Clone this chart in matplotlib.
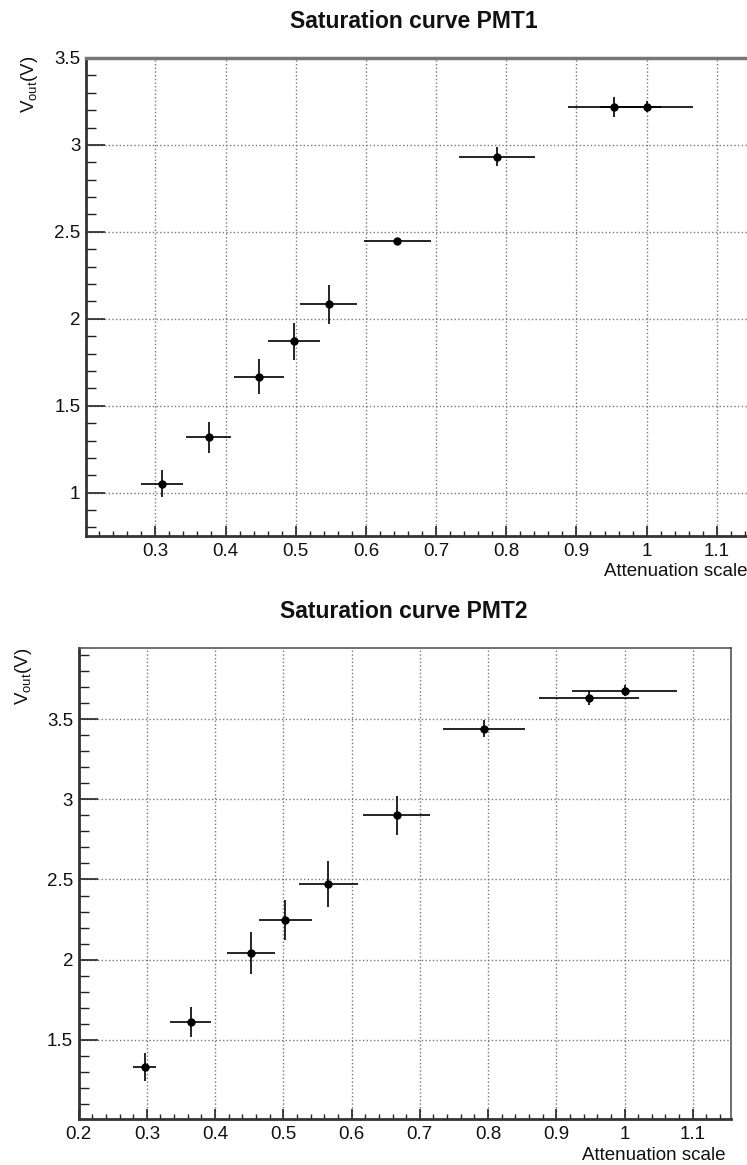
import numpy as np
import matplotlib
matplotlib.use("Agg")
import matplotlib.pyplot as plt
from matplotlib.ticker import MultipleLocator, FormatStrFormatter

plt.rcParams['font.family'] = ['Liberation Sans', 'DejaVu Sans']
plt.rcParams['mathtext.default'] = 'regular'

# PMT1 data
pmt1_x = [0.310, 0.376, 0.448, 0.498, 0.547, 0.645, 0.787, 0.954, 1.000]
pmt1_y = [1.052, 1.318, 1.667, 1.870, 2.084, 2.446, 2.933, 3.220, 3.220]
pmt1_xerr = [0.030, 0.032, 0.036, 0.037, 0.041, 0.048, 0.054, 0.066, 0.066]
pmt1_yerr = [0.078, 0.087, 0.100, 0.107, 0.113, 0.008, 0.054, 0.057, 0.033]

# PMT2 data
pmt2_x = [0.297, 0.364, 0.453, 0.503, 0.566, 0.666, 0.794, 0.948, 1.000]
pmt2_y = [1.329, 1.608, 2.038, 2.248, 2.471, 2.900, 3.442, 3.633, 3.679]
pmt2_xerr = [0.017, 0.030, 0.035, 0.039, 0.043, 0.049, 0.060, 0.073, 0.077]
pmt2_yerr = [0.085, 0.093, 0.131, 0.124, 0.142, 0.122, 0.053, 0.046, 0.035]

W, H = 747, 1165
fig = plt.figure(figsize=(W / 100, H / 100), dpi=100)


def px_axes(l, t, r, b):
    return fig.add_axes([l / W, 1 - b / H, (r - l) / W, (b - t) / H])


def style(ax, xlim, ylim):
    ax.set_xlim(*xlim)
    ax.set_ylim(*ylim)
    ax.xaxis.set_major_locator(MultipleLocator(0.1))
    ax.xaxis.set_minor_locator(MultipleLocator(0.02))
    ax.yaxis.set_major_locator(MultipleLocator(0.5))
    ax.yaxis.set_minor_locator(MultipleLocator(0.1))
    ax.xaxis.set_major_formatter(FormatStrFormatter('%g'))
    ax.yaxis.set_major_formatter(FormatStrFormatter('%g'))
    ax.tick_params(which='both', direction='in', colors='#222222', labelsize=13.5,
                   labelcolor='#111111')
    ax.tick_params(axis='y', which='major', length=14, width=1.2, pad=4)
    ax.tick_params(axis='y', which='minor', length=7, width=1)
    ax.tick_params(axis='x', which='major', length=7.5, width=1.2, pad=5)
    ax.tick_params(axis='x', which='minor', length=3.8, width=1)
    ax.grid(True, which='major', linestyle=':', color='#777777', linewidth=1)
    for s in ['left', 'bottom']:
        ax.spines[s].set_linewidth(2)
        ax.spines[s].set_color('#333333')
    for s in ['top', 'right']:
        ax.spines[s].set_linewidth(1.2)
        ax.spines[s].set_color('#555555')


# top panel
ax1 = px_axes(86, 58, 747, 536)
ax1.errorbar(pmt1_x, pmt1_y, xerr=pmt1_xerr, yerr=pmt1_yerr, fmt='o', color='black',
             markersize=5, elinewidth=1.2, capsize=0, zorder=3)
style(ax1, (0.2012, 1.143), (0.751, 3.5))
ax1.spines['right'].set_visible(False)
ax1.spines['top'].set_linewidth(2.5)
ax1.spines['top'].set_color('#777777')

# bottom panel
ax2 = px_axes(78.6, 648, 731, 1119)
ax2.errorbar(pmt2_x, pmt2_y, xerr=pmt2_xerr, yerr=pmt2_yerr, fmt='o', color='black',
             markersize=5, elinewidth=1.2, capsize=0, zorder=3)
style(ax2, (0.2, 1.156), (1.004, 3.946))

# titles and labels
fig.text(414 / W, 1 - 21 / H, 'Saturation curve PMT1', ha='center', va='center',
         fontsize=16.5, fontweight='bold', color='#111111')
fig.text(404 / W, 1 - 611 / H, 'Saturation curve PMT2', ha='center', va='center',
         fontsize=16.5, fontweight='bold', color='#111111')

fig.text(747 / W, 1 - 571 / H, 'Attenuation scale', ha='right', va='center',
         fontsize=13.5, color='#111111')
fig.text(725 / W, 1 - 1155 / H, 'Attenuation scale', ha='right', va='center',
         fontsize=13.5, color='#111111')

fig.text(30 / W, 1 - 56 / H, 'V$_{out}$(V)', rotation=90, ha='center', va='top',
         fontsize=13.5, color='#111111')
fig.text(24 / W, 1 - 648 / H, 'V$_{out}$(V)', rotation=90, ha='center', va='top',
         fontsize=13.5, color='#111111')

fig.savefig('out.png', dpi=100)
